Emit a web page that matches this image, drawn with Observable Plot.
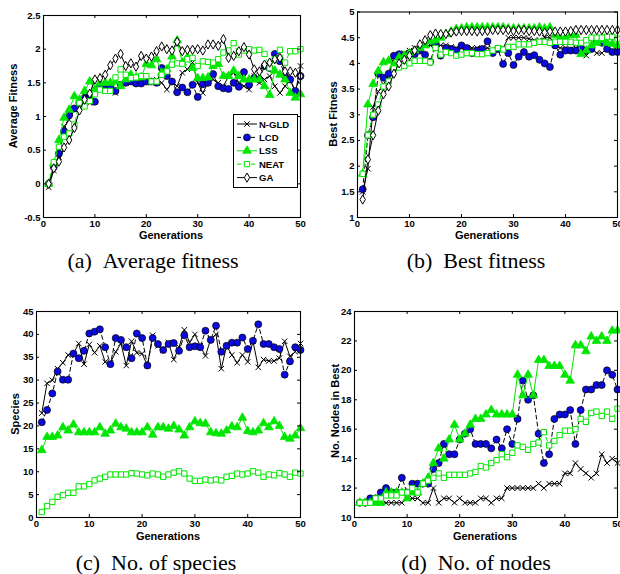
<!DOCTYPE html>
<html><head><meta charset="utf-8">
<script src="https://cdn.jsdelivr.net/npm/d3@7"></script>
<script src="https://cdn.jsdelivr.net/npm/@observablehq/plot@0.6"></script>
<style>
body{margin:0;background:#fff;}
#fig{position:relative;width:620px;height:574px;overflow:hidden;background:#fff;font-family:"Liberation Sans",Arial,sans-serif;}
.panel{position:absolute;}
.t{position:absolute;font-weight:bold;font-size:11px;white-space:nowrap;color:#000;line-height:1;}
.cap{position:absolute;font-family:"Liberation Serif",serif;font-size:22px;white-space:nowrap;line-height:1;color:#000;}
</style></head><body><div id="fig"></div>
<script>
// ---------- data ----------
const gens = [1,2,3,4,5,6,7,8,9,10,11,12,13,14,15,16,17,18,19,20,21,22,23,24,25,26,27,28,29,30,31,32,33,34,35,36,37,38,39,40,41,42,43,44,45,46,47,48,49,50];
const seriesNames = ["N-GLD","LCD","LSS","NEAT","GA"];
const xTicks = [0,10,20,30,40,50];

// (a) Average fitness
const avgNGLD = [-0.05,0.2,0.4,0.85,0.95,1.1,1.25,1.3,1.2,1.4, 1.45,1.45,1.45,1.35,1.48,1.5,1.5,1.5,1.5,1.55, 1.5,1.55,1.5,1.4,1.5,1.45,1.65,1.7,1.8,1.5, 1.35,1.5,1.55,1.5,1.45,1.6,1.65,1.5,1.45,1.4, 1.6,1.5,1.55,1.6,1.45,1.35,1.45,1.55,1.35,1.75];
const avgLCD  = [0,0.25,0.45,0.78,1.02,1.12,1.2,1.28,1.27,1.22, 1.45,1.47,1.45,1.38,1.47,1.5,1.52,1.49,1.49,1.52, 1.52,1.5,1.72,1.6,1.52,1.36,1.43,1.36,1.47,1.29, 1.48,1.5,1.63,1.45,1.42,1.41,1.5,1.44,1.66,1.47, 1.57,1.55,1.75,1.72,1.93,1.82,1.6,1.55,1.38,1.6];
const avgLSS  = [0,0.3,0.65,0.98,1.1,1.3,1.25,1.38,1.52,1.4, 1.5,1.5,1.5,1.52,1.45,1.55,1.62,1.58,1.58,1.78, 1.76,1.85,1.65,1.7,1.89,2.13,1.8,1.88,1.72,1.57, 1.57,1.58,1.75,1.78,1.6,1.6,1.68,1.6,1.55,1.55, 1.55,1.55,1.45,1.32,1.68,1.62,1.55,1.35,1.28,1.33];
const avgNEAT = [0,0.32,0.55,0.7,0.75,0.88,1.2,1.15,1.23,1.33, 1.4,1.38,1.38,1.58,1.7,1.62,1.57,1.58,1.6,1.6, 1.52,1.52,1.62,1.67,1.77,1.79,1.78,1.85,1.87,1.75, 1.82,1.81,1.8,1.85,1.95,1.98,2.09,1.92,1.98,2.0, 1.98,1.99,1.93,1.72,1.85,1.99,1.8,1.97,1.97,2.0];
const avgGA   = [0,0.23,0.33,0.54,0.65,0.83,1.09,1.25,1.34,1.55, 1.57,1.62,1.76,1.86,1.93,1.75,1.79,1.74,1.9,1.86, 1.89,1.97,2.04,2.0,1.98,2.11,1.97,1.99,1.99,2.0, 1.98,2.07,2.07,2.05,2.15,1.87,1.9,1.97,2.03,1.92, 1.7,1.67,1.77,1.8,1.85,1.87,1.67,1.67,1.65,1.6];
const avgTicks = [-0.5,0,0.5,1,1.5,2,2.5];

// (b) Best fitness
const bestNGLD = [1.5,1.95,3.15,3.45,3.6,3.75,4.12,4.15,4.2,4.25, 4.3,4.28,4.35,4.35,4.35,4.35,4.35,4.32,4.3,4.3, 4.3,4.3,4.3,4.28,4.3,4.25,4.3,4.3,4.5,4.5, 4.5,4.5,4.48,4.45,4.45,4.5,4.5,4.35,4.3,4.3, 4.28,4.3,4.35,4.15,4.3,4.2,4.2,4.3,4.25,4.25];
const bestLCD  = [1.55,2.6,2.95,3.8,3.72,3.8,4.15,4.18,4.15,4.2, 4.18,4.25,4.17,4.03,4.38,4.15,4.3,4.28,4.25,4.35, 4.3,4.2,4.25,4.28,4.43,4.2,4.28,3.99,4.2,3.97, 4.13,4.22,4.13,4.16,4.07,4.0,3.93,4.35,4.17,4.25, 4.25,4.25,4.3,4.25,4.28,4.45,4.4,4.28,4.22,4.22];
const bestLSS  = [1.85,3.2,3.6,3.85,4.02,4.05,3.97,4.12,4.15,4.2, 4.25,4.3,4.35,4.43,4.45,4.5,4.57,4.62,4.67,4.68, 4.7,4.7,4.7,4.7,4.7,4.7,4.7,4.7,4.68,4.68, 4.68,4.68,4.68,4.68,4.7,4.68,4.7,4.55,4.5,4.5, 4.55,4.55,4.18,4.25,4.35,4.4,4.45,4.4,4.38,4.35];
const bestNEAT = [1.85,2.6,3.0,3.2,3.55,3.65,3.9,3.92,3.95,4.0, 4.05,4.05,4.05,4.02,4.3,4.17,4.22,4.2,4.15,4.17, 4.2,4.2,4.18,4.18,4.2,4.25,4.3,4.27,4.32,4.32, 4.37,4.37,4.37,4.4,4.42,4.42,4.4,4.42,4.42,4.42, 4.42,4.4,4.4,4.45,4.5,4.5,4.5,4.52,4.52,4.48];
const bestGA   = [1.35,2.13,2.6,3.08,3.4,3.55,3.8,4.0,4.07,4.15, 4.25,4.37,4.45,4.55,4.58,4.57,4.57,4.6,4.62,4.63, 4.63,4.63,4.62,4.63,4.63,4.65,4.65,4.65,4.65,4.63, 4.65,4.65,4.63,4.63,4.62,4.6,4.62,4.62,4.62,4.62, 4.63,4.65,4.65,4.65,4.65,4.65,4.65,4.65,4.65,4.65];
const bestTicks = [1,1.5,2,2.5,3,3.5,4,4.5,5];

// (c) No. of species
const spNGLD = [22.8,29.3,30,32.5,33.8,35.5,35.8,38,33.5,37.8, 36,37.5,34,33.8,36.2,38,33.2,38.5,36,35.8, 33.2,39.8,37.5,36.5,38.2,34.5,37.2,41,38.3,40, 37.5,35.3,39,40,32.5,37.5,35.5,33.8,35.5,34, 38.5,32.8,34.5,34.2,34.2,34.8,38.5,35.2,36.2,38];
const spLCD  = [20.8,23.5,27.1,31.9,30.1,30.1,35.8,34.8,36.4,40.2, 40.6,41.1,37.2,33.5,39.2,38.8,37.2,34.8,40.2,39.2, 33.2,39.2,37.9,36.6,37.9,38.1,36.4,39.8,37.2,37.4, 37.2,40.8,38.8,41.9,36.2,37.5,38.2,38.2,39.3,36.8, 38.6,42.2,37.9,37.9,37.2,36.8,31.2,34.1,37.2,36.6];
const spLSS  = [14.7,17.6,17.6,17.9,19.7,19,20.3,18.6,18.6,18.6, 18.6,19.7,18.3,19,20.5,19.7,19.4,18.6,18.6,18.6, 19.7,18.1,19.7,19.7,19.4,20,19.2,17.9,19.7,21, 20.6,20.5,18.6,18.4,18.3,19,19.9,19.7,21.8,18.9, 18.6,19,20.6,19.7,21,20,17.6,17.2,17.9,19.5];
const spNEAT = [1.2,2.5,3.4,4.5,4.9,5.4,5.4,6.8,6.8,7.3, 8.1,8.5,8.9,9.4,9.4,9.4,9.4,9.7,9.6,9.4, 9.2,9.6,9.4,8.9,9.4,9.8,10.1,9.6,8.5,8.0, 8.0,8.3,8.1,8.3,8.1,8.9,9.1,9.6,9.4,9.6, 10.1,9.8,8.9,9.4,9.2,9.7,9.4,8.9,9.8,9.6];
const spTicks = [0,5,10,15,20,25,30,35,40,45];

// (d) No. of nodes
const ndNGLD = [11,11,11,11,11,11,11,11,11,11.3, 11.3,11.3,11,11,12,11,11.3,11.3,11,11.3, 11,11,11,11.3,11.3,11,11.3,11.3,12,12, 12,12,12,12,12.3,12,12.3,12.3,12.3,13, 13,13.7,13.3,13,12.7,13,14.3,13.7,14,13.7];
const ndLCD  = [11,11,11.3,11.3,11.7,12,11.7,11.7,12.7,11.7, 12.3,12.3,12.3,12.3,13.3,13.7,15,14.3,14.3,15.3, 15.7,16,15,15,15,14.7,15.3,14.7,16,15, 16.7,19.3,18,18.3,15.7,13.7,14.3,16.7,17,17, 17.3,15,17.3,18.7,18.7,19,19,20,19.7,18.7];
const ndLSS  = [11,11,11,11,11,11.7,11.7,11.7,11.7,11.3, 11.7,11.7,12.3,12.7,13.7,14.7,14,15.3,16.3,15.3, 15.7,16.3,16.7,16.7,17,17.3,17,17,17,17, 19.7,18.3,19.7,18.3,20.7,20.7,20.3,20.3,20.3,19.7, 19.3,21.7,21.7,21.3,22.3,22,22.3,22,22.7,22.7];
const ndNEAT = [11,11,11,11.3,11.3,11.5,11.5,11.5,11.7,11.7, 12,11.7,12.3,12.5,12.7,13,12.7,12.9,12.9,12.9, 12.9,13,13.1,13.5,13.4,13.7,13.9,14.3,14.1,14.4, 14.9,14.8,14.6,15,15.1,15.8,14.9,15.2,15.6,15.9, 15.9,16,16.7,16.5,17.1,17.2,16.9,17.2,16.7,17.4];
const ndTicks = [10,12,14,16,18,20,22,24];

// ---------- styles ----------
const BLUE = "#0a0ae0", GREEN = "#00e600";
const styles = {
  "N-GLD": {line: "black", dash: null, symbol: "times", fill: "none", stroke: "black", r: 2.6, sw: 1},
  "LCD":   {line: "black", dash: "4,3", symbol: "circle", fill: BLUE, stroke: "black", r: 3.5, sw: 0.7},
  "LSS":   {line: GREEN, dash: null, symbol: "triangle", fill: GREEN, stroke: GREEN, r: 3.2, sw: 0.8},
  "NEAT":  {line: GREEN, dash: "4,3", symbol: "square", fill: "white", stroke: GREEN, r: 3.0, sw: 1},
  "GA":    {line: "black", dash: null, symbol: "diamond", fill: "white", stroke: "black", r: 2.8, sw: 1}
};

const fig = document.getElementById("fig");

function rows(values) { return gens.map((g, i) => ({g, v: values[i]})); }

function panel({left, top, width, height, mt, mr, mb, ml, yDomain, yTicks, series}) {
  const innerH = height - mt - mb, innerW = width - ml - mr;
  const marks = [];
  for (const [name, values] of series) {
    const s = styles[name];
    const data = rows(values);
    marks.push(Plot.line(data, {x: "g", y: "v", stroke: s.line, strokeWidth: 1, strokeDasharray: s.dash}));
    marks.push(Plot.dot(data, {x: "g", y: "v", symbol: () => s.symbol, r: s.r, fill: s.fill, stroke: s.stroke, strokeWidth: s.sw}));
  }
  marks.push(Plot.frame({stroke: "black", strokeWidth: 1.1}));
  marks.push(Plot.tickX(xTicks, {x: d => d, insetTop: innerH - 3, stroke: "black"}));
  marks.push(Plot.tickX(xTicks, {x: d => d, insetBottom: innerH - 3, stroke: "black"}));
  marks.push(Plot.tickY(yTicks, {y: d => d, insetRight: innerW - 3, stroke: "black"}));
  marks.push(Plot.tickY(yTicks, {y: d => d, insetLeft: innerW - 3, stroke: "black"}));
  marks.push(Plot.axisX({ticks: xTicks, tickSize: 0, tickPadding: 3, tickFormat: d => String(d), label: null}));
  marks.push(Plot.axisY({ticks: yTicks, tickSize: 0, tickPadding: 3, tickFormat: d => String(d), label: null}));
  const svg = Plot.plot({
    width, height, marginTop: mt, marginRight: mr, marginBottom: mb, marginLeft: ml,
    x: {domain: [0, 50]},
    y: {domain: yDomain},
    symbol: {type: "identity"},
    style: {fontFamily: "'Liberation Sans', Arial, sans-serif", fontSize: "9.5px", fontWeight: "bold", color: "black", background: "transparent", overflow: "visible"},
    marks
  });
  const div = document.createElement("div");
  div.className = "panel";
  div.style.left = left + "px"; div.style.top = top + "px"; div.style.width = width + "px";
  div.appendChild(svg);
  fig.appendChild(div);
}

function text(cls, str, cx, cy, rotate) {
  const d = document.createElement("div");
  d.className = cls;
  d.textContent = str;
  d.style.left = cx + "px"; d.style.top = cy + "px";
  d.style.transform = "translate(-50%,-50%)" + (rotate ? " rotate(-90deg)" : "");
  fig.appendChild(d);
}
function caption(str, cx, top) {
  const d = document.createElement("div");
  d.className = "cap";
  d.textContent = str;
  d.style.left = cx + "px"; d.style.top = top + "px";
  d.style.transform = "translate(-50%,0)";
  fig.appendChild(d);
}

panel({left: 0, top: 0, width: 310, height: 245, mt: 15, mr: 10, mb: 28, ml: 43, yDomain: [-0.5, 2.5], yTicks: avgTicks,
  series: [["N-GLD", avgNGLD], ["LCD", avgLCD], ["LSS", avgLSS], ["NEAT", avgNEAT], ["GA", avgGA]]});
panel({left: 310, top: 0, width: 310, height: 245, mt: 11.5, mr: 3, mb: 28, ml: 47, yDomain: [1, 5], yTicks: bestTicks,
  series: [["N-GLD", bestNGLD], ["LCD", bestLCD], ["LSS", bestLSS], ["NEAT", bestNEAT], ["GA", bestGA]]});
panel({left: 0, top: 280, width: 310, height: 265, mt: 31, mr: 10, mb: 28, ml: 36, yDomain: [0, 45], yTicks: spTicks,
  series: [["N-GLD", spNGLD], ["LCD", spLCD], ["LSS", spLSS], ["NEAT", spNEAT]]});
panel({left: 310, top: 280, width: 310, height: 265, mt: 31, mr: 3, mb: 28, ml: 44, yDomain: [10, 24], yTicks: ndTicks,
  series: [["N-GLD", ndNGLD], ["LCD", ndLCD], ["LSS", ndLSS], ["NEAT", ndNEAT]]});

// axis titles
text("t", "Average Fitness", 13, 106, true);
text("t", "Best Fitness", 333, 114, true);
text("t", "Species", 15, 414, true);
text("t", "No. Nodes in Best", 335, 411, true);
text("t", "Generations", 171, 235);
text("t", "Generations", 487, 235);
text("t", "Generations", 168, 536);
text("t", "Generations", 485, 536);

// captions
caption("(a)\u2002Average fitness", 153, 250);
caption("(b)\u2002Best fitness", 476, 250);
caption("(c)\u2002No. of species", 156, 552);
caption("(d)\u2002No. of nodes", 476, 552);

// legend (panel a)
const symbolTypes = {times: d3.symbolTimes, circle: d3.symbolCircle, triangle: d3.symbolTriangle, square: d3.symbolSquare, diamond: d3.symbolDiamond};
const lg = d3.select(fig).append("svg")
  .style("position", "absolute").style("left", "233px").style("top", "114px")
  .attr("width", 66).attr("height", 75);
lg.append("rect").attr("x", 0.5).attr("y", 0.5).attr("width", 64).attr("height", 73).attr("fill", "white").attr("stroke", "black");
seriesNames.forEach((name, i) => {
  const s = styles[name];
  const y = 10 + i * 13.4;
  const g = lg.append("g").attr("transform", `translate(0,${y})`);
  g.append("line").attr("x1", 4).attr("x2", 24).attr("y1", 0).attr("y2", 0)
    .attr("stroke", s.line).attr("stroke-dasharray", s.dash).attr("stroke-width", 1);
  g.append("path").attr("transform", "translate(14,0)")
    .attr("d", d3.symbol(symbolTypes[s.symbol], Math.PI * s.r * s.r)())
    .attr("fill", s.fill).attr("stroke", s.stroke).attr("stroke-width", s.sw);
  g.append("text").attr("x", 26).attr("y", 3.5).text(name)
    .attr("font-family", "'Liberation Sans', Arial, sans-serif").attr("font-size", "9.5px").attr("font-weight", "bold");
});
</script></body></html>
